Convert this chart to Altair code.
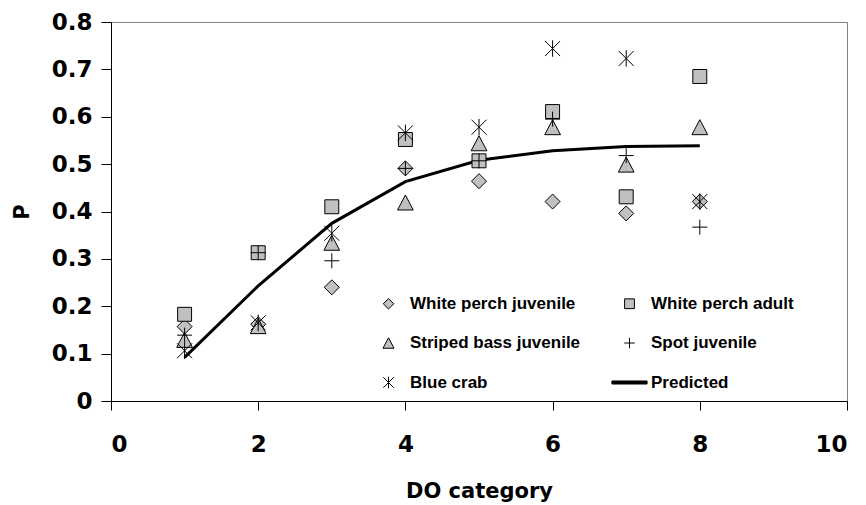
import altair as alt
import pandas as pd

do_cat = [1, 2, 3, 4, 5, 6, 7, 8]
wp_juv = [0.157, 0.162, 0.240, 0.491, 0.464, 0.421, 0.396, 0.421]
wp_adult = [0.183, 0.313, 0.410, 0.552, 0.507, 0.611, 0.431, 0.685]
sb_juv = [0.129, 0.158, 0.334, 0.419, 0.544, 0.578, 0.499, 0.578]
spot_juv = [0.139, 0.313, 0.296, 0.491, 0.507, 0.595, 0.518, 0.367]
blue_crab = [0.106, 0.165, 0.354, 0.566, 0.578, 0.744, 0.723, 0.421]
predicted = [0.092, 0.243, 0.375, 0.463, 0.508, 0.528, 0.537, 0.539]

series_names = ["White perch juvenile", "White perch adult", "Striped bass juvenile",
                "Spot juvenile", "Blue crab", "Predicted"]
series_values = [wp_juv, wp_adult, sb_juv, spot_juv, blue_crab]

shapes = [
    "M0,-1L1,0L0,1L-1,0Z",
    "M-0.93,-0.93H0.93V0.93H-0.93Z",
    "M0,-1L1.05,1L-1.05,1Z",
    "M-1,0H1M0,-1V1",
    "M-1,-1L1,1M-1,1L1,-1M0,-1.1V1.1",
    "M-3.35,-0.29H3.35V0.29H-3.35Z",
]
fills = ["#c0c0c0", "#c0c0c0", "#c0c0c0", "transparent", "transparent", "black"]
strokes = ["black"] * 6

rows = []
for name, vals in zip(series_names, series_values):
    for x, v in zip(do_cat, vals):
        rows.append({"DO": x, "P": v, "series": name, "order": series_names.index(name)})
pts = pd.DataFrame(rows)
pred = pd.DataFrame({"DO": do_cat, "P": predicted})

AXFONT = "DejaVu Sans"
LGFONT = "Liberation Sans"

xscale = alt.Scale(domain=[0, 10], nice=False, zero=False)
yscale = alt.Scale(domain=[0, 0.8], nice=False)

xaxis = alt.Axis(values=[0, 2, 4, 6, 8, 10], title="DO category", grid=False,
                 tickSize=9, labelPadding=23, titlePadding=24,
                 labelFontSize=23, titleFontSize=21)
yaxis = alt.Axis(values=[0, 0.1, 0.2, 0.3, 0.4, 0.5, 0.6, 0.7, 0.8], format=".1~f",
                 title="P", grid=False, tickSize=10, labelPadding=9, titlePadding=19,
                 labelFontSize=23, titleFontSize=21)

line = alt.Chart(pred).mark_line(color="black", strokeWidth=3).encode(
    x=alt.X("DO:Q", scale=xscale, axis=xaxis),
    y=alt.Y("P:Q", scale=yscale, axis=yaxis),
)

legend = alt.Legend(title=None)
points = alt.Chart(pts).mark_point(filled=True, strokeWidth=1, size=225, opacity=1).encode(
    x=alt.X("DO:Q", scale=xscale, axis=xaxis),
    y=alt.Y("P:Q", scale=yscale, axis=yaxis),
    shape=alt.Shape("series:N", scale=alt.Scale(domain=series_names, range=shapes), legend=legend),
    fill=alt.Fill("series:N", scale=alt.Scale(domain=series_names, range=fills), legend=legend),
    stroke=alt.Stroke("series:N", scale=alt.Scale(domain=series_names, range=strokes), legend=legend),
    order=alt.Order("order:Q"),
)

chart = alt.layer(line, points).properties(
    width=736, height=379,
    autosize=alt.AutoSizeParams(type="none"),
    padding={"left": 103, "top": 14, "right": 11, "bottom": 101},
).configure_view(
    stroke="#808080", strokeWidth=1
).configure_axis(
    domainColor="black", tickColor="black", labelColor="black", titleColor="black",
    labelFont=AXFONT, titleFont=AXFONT, labelFontWeight="bold", titleFontWeight="bold",
    domainWidth=1, tickWidth=1,
).configure_legend(
    orient="none", legendX=269, legendY=273, columns=2, direction="horizontal",
    columnPadding=28, rowPadding=21.5, padding=0, labelFont=LGFONT, labelFontSize=17,
    labelFontWeight="bold", labelColor="black", labelLimit=400, symbolSize=110,
    symbolStrokeWidth=1, labelOffset=13, symbolOpacity=1,
)

chart.save("out.html", embed_options={"renderer": "svg", "actions": False})
